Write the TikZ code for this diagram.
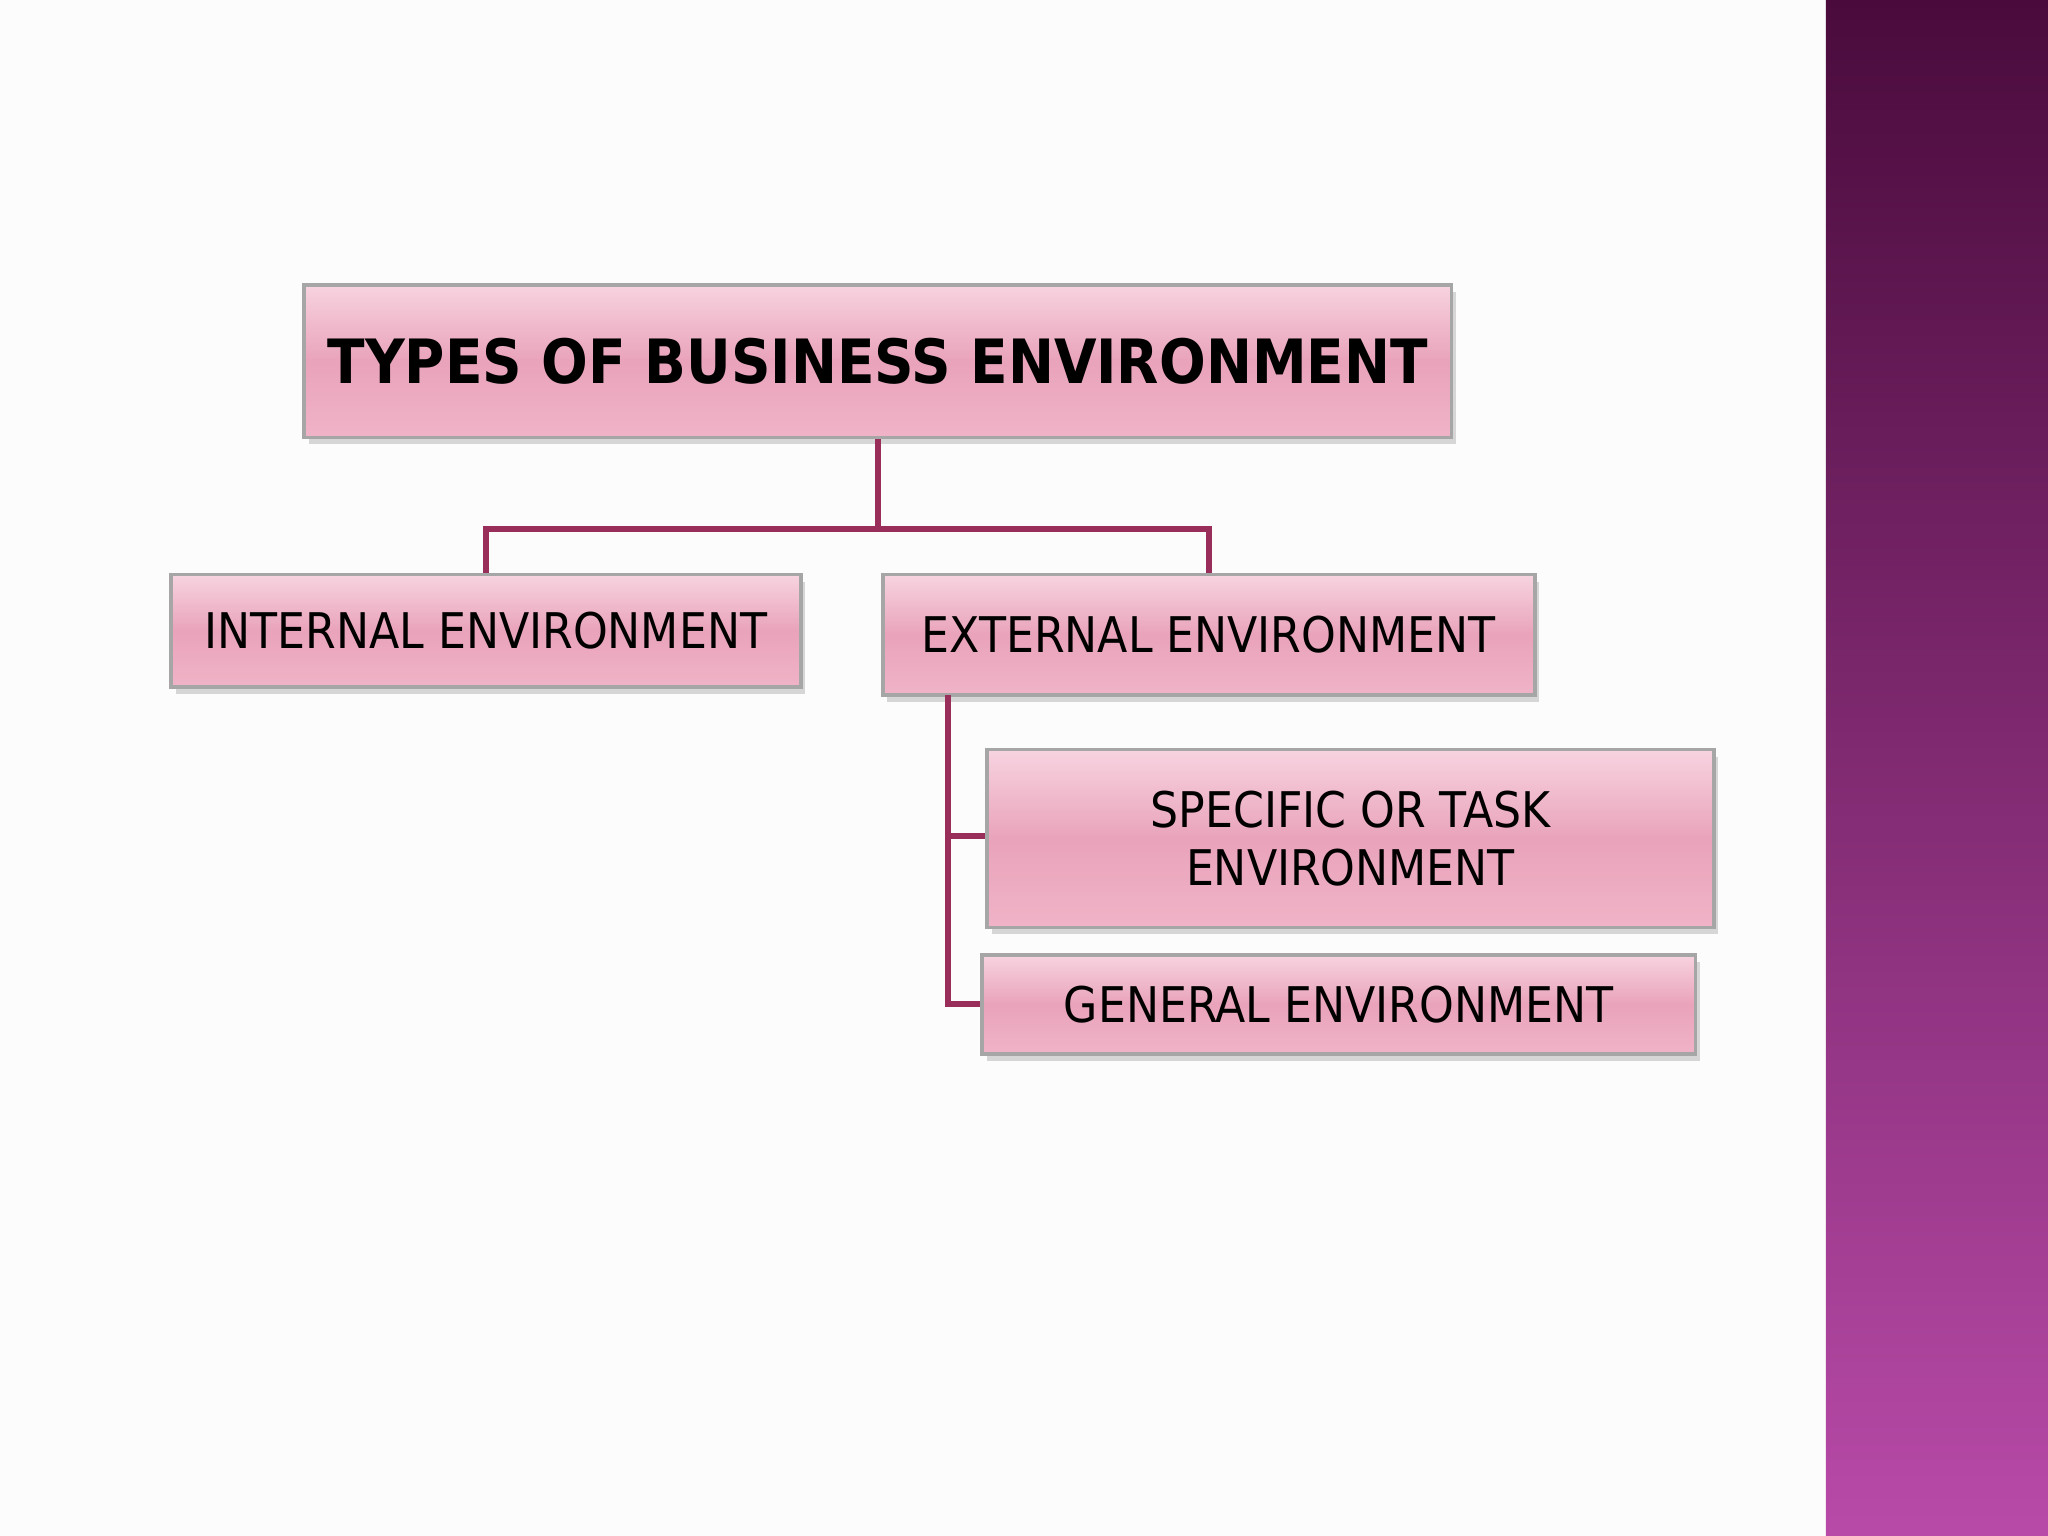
\documentclass[tikz,border=0pt]{standalone}
\usepackage{fontspec}
\setmainfont{DejaVu Sans Condensed}
\usetikzlibrary{shadows}
\definecolor{conn}{HTML}{9A2E5A}
\definecolor{pinkA}{HTML}{F7D3E0}
\definecolor{pinkB}{HTML}{E9A3BA}
\definecolor{pinkC}{HTML}{F0B3C7}
\definecolor{barTop}{HTML}{4A0B3C}
\definecolor{barBot}{HTML}{B84AA8}
\tikzset{
  x=0.01cm,y=-0.01cm,
  box/.style={draw=black!35,line width=0.8pt,top color=pinkA,bottom color=pinkC,middle color=pinkB,
    drop shadow={shadow xshift=1pt,shadow yshift=-1.5pt,opacity=0.3},inner sep=0pt,
    align=center,font=\fontsize{10.7}{12.5}\selectfont},
  link/.style={draw=conn,line width=1.3pt}
}
\begin{document}
\begin{tikzpicture}
\useasboundingbox (0,0) rectangle (1568,1176);
\fill[white!98!gray] (0,0) rectangle (1398,1176);
\shade[top color=barTop, bottom color=barBot] (1398,0) rectangle (1568,1176);
\node[box,minimum width=8.78cm,minimum height=1.17cm,font=\bfseries\fontsize{13.3}{16}\selectfont] (t) at (672,276.5) {TYPES OF BUSINESS ENVIRONMENT};
\node[box,minimum width=4.82cm,minimum height=0.86cm] (i) at (372,483) {INTERNAL ENVIRONMENT};
\node[box,minimum width=4.99cm,minimum height=0.92cm] (e) at (925.5,486) {EXTERNAL ENVIRONMENT};
\node[box,minimum width=5.56cm,minimum height=1.36cm] (s) at (1034,642) {SPECIFIC OR TASK\\ENVIRONMENT};
\node[box,minimum width=5.46cm,minimum height=0.76cm] (g) at (1025,769) {GENERAL ENVIRONMENT};
\coordinate (j) at (672,405);
\draw[link] (t.south) -- (j);
\draw[link] (i.north) |- (j) -| (e.north);
\coordinate (v) at (726,532);
\coordinate (vs) at (726,640);
\draw[link] (v) |- (g.west);
\draw[link] (vs) -- (s.west |- vs);
\end{tikzpicture}
\end{document}
